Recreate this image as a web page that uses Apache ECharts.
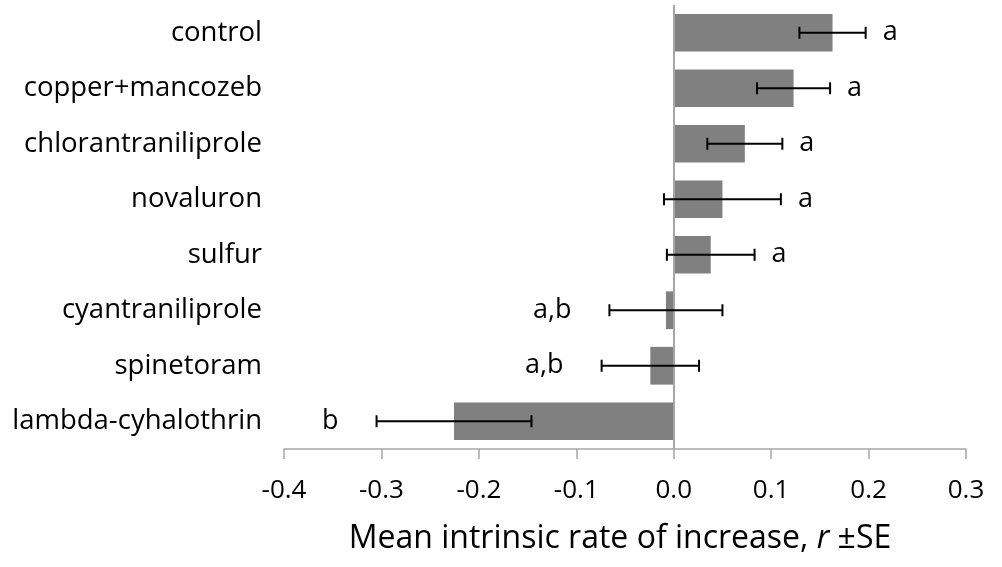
<!DOCTYPE html>
<html>
<head>
<meta charset="utf-8">
<script src="https://cdn.jsdelivr.net/npm/echarts@6/dist/echarts.min.js"></script>
<style>
  html, body { margin: 0; padding: 0; background: #fff; }
  #chart { width: 1002px; height: 567px; }
</style>
</head>
<body>
<div id="chart"></div>
<script>
const treatments = ['control', 'copper+mancozeb', 'chlorantraniliprole', 'novaluron',
  'sulfur', 'cyantraniliprole', 'spinetoram', 'lambda-cyhalothrin'];
const meanR = [0.163, 0.123, 0.073, 0.050, 0.038, -0.008, -0.024, -0.2255];
const seR = [0.034, 0.0375, 0.0385, 0.060, 0.045, 0.058, 0.050, 0.0795];
const groups = ['a', 'a', 'a', 'a', 'a', 'a,b', 'a,b', 'b'];
const xTicks = [-0.4, -0.3, -0.2, -0.1, 0.0, 0.1, 0.2, 0.3];

const FONT = 'Open Sans';

const chart = echarts.init(document.getElementById('chart'));

// error bar data: [category index, low, high]
const errData = meanR.map((m, i) => [i, m - seR[i], m + seR[i]]);

const option = {
  animation: false,
  grid: { left: 284, right: 36, top: 5, bottom: 118 },
  xAxis: {
    type: 'value',
    min: xTicks[0],
    max: xTicks[xTicks.length - 1],
    interval: 0.1,
    splitLine: { show: false },
    axisLine: { show: true, lineStyle: { color: '#a6a6a6', width: 1.5 } },
    axisTick: { show: true, length: 10, lineStyle: { color: '#a6a6a6', width: 1.5 } },
    axisLabel: {
      color: '#000', fontFamily: FONT, fontSize: 26, margin: 29,
      formatter: v => v.toFixed(1)
    },
    name: '{n|Mean intrinsic rate of increase, }{i|r}{n| ±SE}',
    nameLocation: 'middle',
    nameGap: 74,
    nameTextStyle: {
      padding: [0, 10, 0, 0],
      rich: {
        n: { fontFamily: FONT, fontSize: 32, color: '#000' },
        i: { fontFamily: FONT, fontSize: 32, color: '#000', fontStyle: 'italic' }
      }
    }
  },
  yAxis: {
    type: 'category',
    data: treatments,
    inverse: true,
    axisLine: { show: false },
    axisTick: { show: false },
    axisLabel: { color: '#000', fontFamily: FONT, fontSize: 27.5, margin: 22 }
  },
  series: [
    {
      type: 'bar',
      data: meanR,
      barWidth: '68%',
      itemStyle: { color: '#808080' },
      markLine: {
        silent: true,
        symbol: 'none',
        label: { show: false },
        lineStyle: { color: '#a6a6a6', width: 2, type: 'solid' },
        data: [{ xAxis: 0 }]
      }
    },
    {
      type: 'custom',
      data: errData,
      encode: { x: [1, 2], y: 0 },
      z: 5,
      renderItem: (params, api) => {
        const cat = api.value(0);
        const lo = api.coord([api.value(1), cat]);
        const hi = api.coord([api.value(2), cat]);
        const cap = 6;
        const style = { stroke: '#000', lineWidth: 2 };
        return {
          type: 'group',
          children: [
            { type: 'line', shape: { x1: lo[0], y1: lo[1], x2: hi[0], y2: hi[1] }, style },
            { type: 'line', shape: { x1: lo[0], y1: lo[1] - cap, x2: lo[0], y2: lo[1] + cap }, style },
            { type: 'line', shape: { x1: hi[0], y1: hi[1] - cap, x2: hi[0], y2: hi[1] + cap }, style }
          ]
        };
      }
    },
    {
      type: 'custom',
      data: errData,
      encode: { x: [1, 2], y: 0 },
      z: 6,
      renderItem: (params, api) => {
        const i = params.dataIndex;
        const cat = api.value(0);
        const pos = meanR[i] >= 0;
        const p = pos ? api.coord([api.value(2), cat]) : api.coord([api.value(1), cat]);
        return {
          type: 'text',
          x: pos ? p[0] + 17 : p[0] - 38,
          y: p[1],
          style: {
            text: groups[i],
            fill: '#000',
            font: '27px "' + FONT + '"',
            align: pos ? 'left' : 'right',
            verticalAlign: 'middle'
          }
        };
      }
    }
  ]
};

chart.setOption(option);
</script>
</body>
</html>
